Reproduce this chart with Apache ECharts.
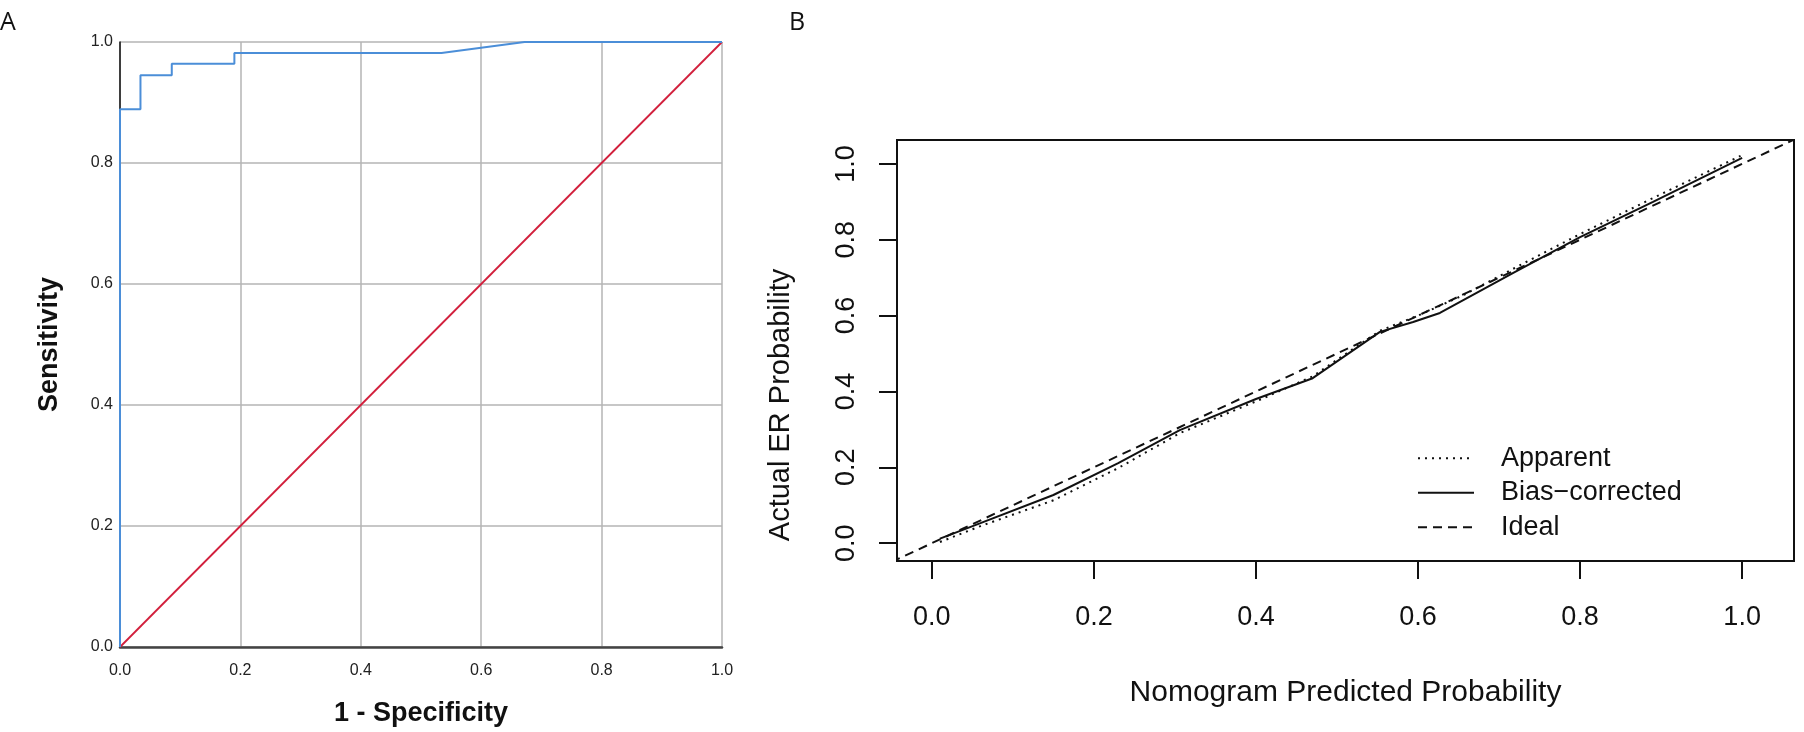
<html>
  <head>
    <script src="https://cdn.jsdelivr.net/npm/echarts@6.0.0/dist/echarts.min.js"></script>
    <title>ROC and calibration</title>
  </head>
  <body style="margin:0; background-color:#ffffff;">
    <div id="chart" style="width:1804px; height:732px;"></div>
    <script>
      // panel A: ROC curve (corners listed in order)
      const rocX = [0, 0, 0.034, 0.034, 0.086, 0.086, 0.19, 0.19, 0.534, 0.672, 1];
      const rocY = [0, 0.889, 0.889, 0.945, 0.945, 0.964, 0.964, 0.982, 0.982, 1, 1];
      const refX = [0, 1];
      const refY = [0, 1];

      // panel B: calibration curves
      const apparentX = [0.01, 0.06, 0.15, 0.23, 0.306, 0.409, 0.47, 0.553, 0.6, 0.656, 0.725, 0.80, 0.89, 0.998];
      const apparentY = [0.003, 0.045, 0.113, 0.198, 0.29, 0.382, 0.44, 0.56, 0.6, 0.654, 0.732, 0.815, 0.91, 1.021];
      const biasX = [0.01, 0.06, 0.15, 0.23, 0.306, 0.40, 0.47, 0.553, 0.594, 0.627, 0.717, 0.80, 0.89, 1.0];
      const biasY = [0.012, 0.053, 0.127, 0.211, 0.298, 0.38, 0.435, 0.557, 0.583, 0.607, 0.712, 0.807, 0.90, 1.016];
      const idealX = [-0.1, 1.1];
      const idealY = [-0.1, 1.1];
      const calTicks = [0, 0.2, 0.4, 0.6, 0.8, 1.0];
      const legendNames = ['Apparent', 'Bias\u2212corrected', 'Ideal'];

      const pairs = (xs, ys) => xs.map((x, i) => [x, ys[i]]);
      const font = 'Liberation Sans';

      const chart = echarts.init(document.getElementById('chart'));

      const option = {
        animation: false,
        backgroundColor: '#ffffff',
        graphic: [
          { type: 'text', left: 0, top: 3, style: { text: 'A', font: '25px "Open Sans"', fill: '#111' } },
          { type: 'text', left: 789, top: 3, style: { text: 'B', font: '25px "Open Sans"', fill: '#111' } },
          {
            type: 'text', x: 781, y: 405, rotation: Math.PI / 2,
            style: { text: 'Actual ER Probability', font: '29px "Liberation Sans"', fill: '#111', align: 'center', verticalAlign: 'middle' }
          }
        ],
        legend: {
          orient: 'vertical',
          left: 1412,
          top: 430,
          itemWidth: 56,
          itemHeight: 4,
          itemGap: -12,
          data: legendNames,
          itemStyle: { color: 'transparent', borderColor: 'transparent', borderWidth: 0, opacity: 0 },
          formatter: name => '{g|}{t|' + name + '}',
          textStyle: {
            color: '#111',
            rich: {
              g: { width: 22, height: 27 },
              t: { fontFamily: font, fontSize: 27, lineHeight: 27, color: '#111' }
            }
          }
        },
        grid: [
          { left: 120, top: 42, width: 602, height: 605, show: false, outerBoundsMode: 'none', containLabel: false },
          {
            left: 897, top: 140, width: 897, height: 421, show: true, outerBoundsMode: 'none', containLabel: false,
            borderColor: '#111', borderWidth: 2, backgroundColor: 'transparent'
          }
        ],
        xAxis: [
          {
            gridIndex: 0, type: 'value', min: 0, max: 1, interval: 0.2,
            name: '1 - Specificity', nameLocation: 'middle', nameGap: 43,
            nameTextStyle: { fontFamily: font, fontSize: 27, fontWeight: 'bold', color: '#111' },
            axisLine: { show: true, lineStyle: { color: '#444', width: 2.5 } },
            axisTick: { show: false },
            axisLabel: { fontFamily: font, fontSize: 16, color: '#222', margin: 10, formatter: v => v.toFixed(1) },
            splitLine: { show: true, lineStyle: { color: '#b4b4b4', width: 1.5 } }
          },
          {
            gridIndex: 1, type: 'value', min: -0.043, max: 1.064,
            name: 'Nomogram Predicted Probability', nameLocation: 'middle', nameGap: 106,
            nameTextStyle: { fontFamily: font, fontSize: 30, color: '#111' },
            axisLine: { show: false, onZero: false },
            axisTick: { show: true, length: 18, customValues: calTicks, lineStyle: { color: '#111', width: 2 } },
            axisLabel: { fontFamily: font, fontSize: 27, color: '#111', margin: 33, customValues: calTicks, formatter: v => v.toFixed(1) },
            splitLine: { show: false }
          }
        ],
        yAxis: [
          {
            gridIndex: 0, type: 'value', min: 0, max: 1, interval: 0.2,
            name: 'Sensitivity', nameLocation: 'middle', nameGap: 47,
            nameTextStyle: { fontFamily: font, fontSize: 27, fontWeight: 'bold', color: '#111' },
            axisLine: { show: true, lineStyle: { color: '#111', width: 1.5 } },
            axisTick: { show: false },
            axisLabel: { fontFamily: font, fontSize: 16, color: '#222', margin: 7, formatter: v => v.toFixed(1) },
            splitLine: { show: true, lineStyle: { color: '#b4b4b4', width: 1.5 } }
          },
          {
            gridIndex: 1, type: 'value', min: -0.047, max: 1.063,
            axisLine: { show: false, onZero: false },
            axisTick: { show: true, length: 18, customValues: calTicks, lineStyle: { color: '#111', width: 2 } },
            axisLabel: { fontFamily: font, fontSize: 27, color: '#111', margin: 27, rotate: 90, customValues: calTicks, formatter: v => v.toFixed(1) },
            splitLine: { show: false }
          }
        ],
        series: [
          {
            name: 'reference', type: 'line', xAxisIndex: 0, yAxisIndex: 0, symbol: 'none',
            lineStyle: { color: '#d21f3c', width: 1.8 }, data: pairs(refX, refY)
          },
          {
            name: 'roc', type: 'line', xAxisIndex: 0, yAxisIndex: 0, symbol: 'none',
            lineStyle: { color: '#4b8ed8', width: 2 }, data: pairs(rocX, rocY)
          },
          {
            name: legendNames[2], type: 'line', xAxisIndex: 1, yAxisIndex: 1, symbol: 'none', clip: true,
            itemStyle: { color: '#111' },
            lineStyle: { color: '#111', width: 2, type: [9, 6] }, data: pairs(idealX, idealY)
          },
          {
            name: legendNames[0], type: 'line', xAxisIndex: 1, yAxisIndex: 1, symbol: 'none',
            itemStyle: { color: '#111' },
            lineStyle: { color: '#111', width: 2, type: [2, 5] }, data: pairs(apparentX, apparentY)
          },
          {
            name: legendNames[1], type: 'line', xAxisIndex: 1, yAxisIndex: 1, symbol: 'none',
            itemStyle: { color: '#111' },
            lineStyle: { color: '#111', width: 2 }, data: pairs(biasX, biasY)
          }
        ]
      };

      chart.setOption(option);
    </script>
  </body>
</html>
